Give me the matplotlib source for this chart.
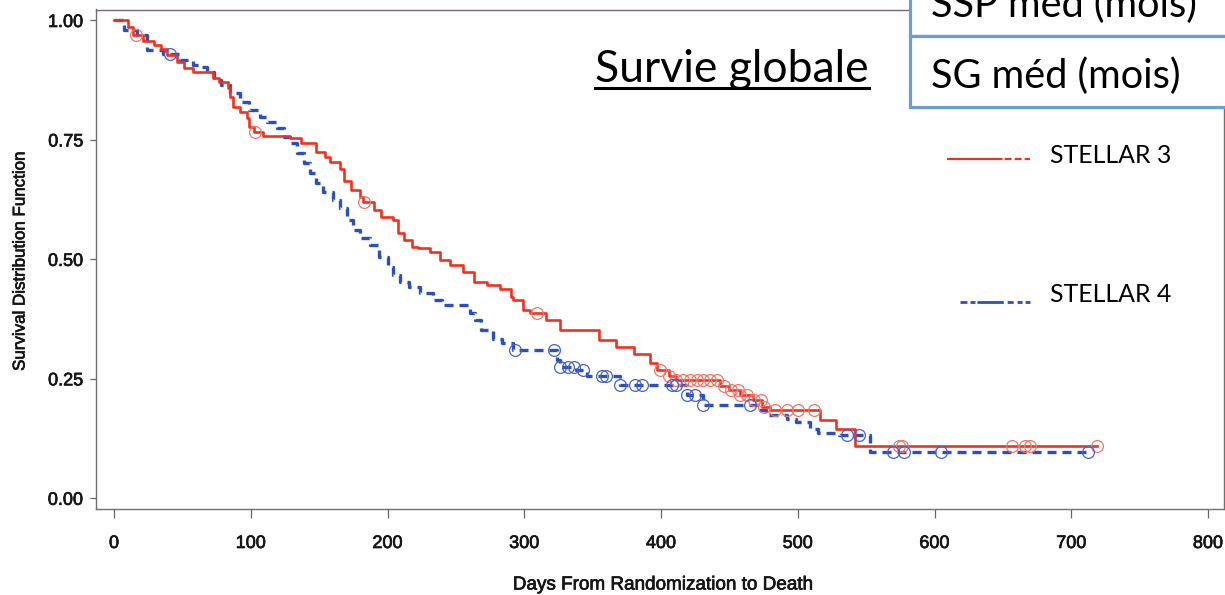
import numpy as np
import matplotlib
matplotlib.use("Agg")
import matplotlib.pyplot as plt
import matplotlib.patheffects as pe
from matplotlib.lines import Line2D
from matplotlib.patches import Rectangle

plt.rcParams['lines.scale_dashes'] = False

# Kaplan-Meier steps: day of each drop and survival after it
s3_days = [0, 10, 14, 21, 29, 34, 39, 46, 51, 58,
           72, 77, 83, 85, 87, 92, 97, 99, 102, 109,
           129, 137, 148, 154, 158, 165, 168, 173, 180, 182,
           190, 195, 204, 208, 212, 218, 222, 231, 238, 246,
           255, 263, 273, 282, 290, 292, 299, 304, 316, 326,
           355, 367, 380, 392, 397, 406, 411, 443, 450, 458,
           467, 474, 480, 516, 528, 542]
s3_surv = [1.000, 0.987, 0.969, 0.958, 0.948, 0.941, 0.927, 0.913, 0.900, 0.892,
           0.880, 0.871, 0.858, 0.840, 0.819, 0.808, 0.795, 0.777, 0.766, 0.759,
           0.754, 0.743, 0.725, 0.714, 0.704, 0.690, 0.665, 0.645, 0.630, 0.620,
           0.603, 0.589, 0.582, 0.555, 0.540, 0.526, 0.523, 0.515, 0.498, 0.488,
           0.473, 0.452, 0.446, 0.439, 0.421, 0.414, 0.394, 0.387, 0.373, 0.352,
           0.331, 0.316, 0.303, 0.283, 0.268, 0.257, 0.247, 0.236, 0.226, 0.216,
           0.205, 0.191, 0.184, 0.163, 0.146, 0.109]
s3_censored = [16, 103, 183, 309, 399, 406, 411, 416, 421, 426, 431, 436, 441,
               446, 451, 456, 458, 463, 468, 473, 475, 483, 492, 500, 512,
               574, 576, 657, 666, 670, 719]

s4_days = [0, 7, 17, 24, 36, 48, 58, 63, 68, 73,
           78, 85, 92, 99, 107, 112, 119, 124, 129, 134,
           139, 143, 148, 153, 160, 165, 170, 175, 180, 187,
           194, 200, 204, 209, 216, 224, 233, 240, 260, 264,
           268, 277, 284, 292, 324, 326, 338, 346, 370, 419,
           431, 471, 477, 492, 499, 509, 515, 530, 553]
s4_surv = [1.000, 0.980, 0.969, 0.938, 0.930, 0.917, 0.906, 0.902, 0.892, 0.875,
           0.865, 0.848, 0.829, 0.812, 0.798, 0.787, 0.775, 0.756, 0.743, 0.722,
           0.701, 0.680, 0.659, 0.641, 0.624, 0.607, 0.582, 0.561, 0.544, 0.530,
           0.505, 0.484, 0.467, 0.452, 0.442, 0.429, 0.414, 0.404, 0.387, 0.373,
           0.352, 0.334, 0.324, 0.310, 0.289, 0.275, 0.268, 0.257, 0.237, 0.216,
           0.195, 0.184, 0.174, 0.167, 0.159, 0.146, 0.136, 0.132, 0.096]
s4_censored = [41, 293, 322, 326, 332, 336, 343, 357, 360, 370, 381, 386, 408,
               411, 419, 425, 431, 465, 536, 545, 570, 578, 605, 712]

x_ticks = [0, 100, 200, 300, 400, 500, 600, 700, 800]
y_ticks = [0.00, 0.25, 0.50, 0.75, 1.00]
arm_labels = ["STELLAR 3", "STELLAR 4"]
table_rows = ["SSP méd (mois)", "SG méd (mois)"]
title = "Survie globale"

RED = '#f2301f'
RED_C = '#f37565'
BLUE = '#2b4fbe'
BLUE_C = '#4862c6'
TABLE_EDGE = '#6a9fd6'
INK = '#151515'

W, H = 1225, 595

# slightly heavier strokes for the axis text
heavy = [pe.withStroke(linewidth=0.5, foreground=INK)]


def fx(x):
    return x / W


def fy(y):
    return 1 - y / H


def km_curve(ax, days, surv, censored, color, ccolor, **kw):
    days = np.asarray(days, float)
    surv = np.asarray(surv, float)
    end = max(censored)
    ax.step(np.append(days, end), np.append(surv, surv[-1]), where='post',
            color=color, **kw)
    idx = np.searchsorted(days, censored, side='right') - 1
    ax.plot(censored, surv[idx], 'o', ms=8.5, mfc='none', mec=ccolor,
            mew=0.9, zorder=4)


fig = plt.figure(figsize=(W / 100, H / 100), dpi=100)
ax = fig.add_axes([fx(96), fy(509.3), fx(1224) - fx(96), fy(9.5) - fy(509.3)])

km_curve(ax, s3_days, s3_surv, s3_censored, RED, RED_C, lw=1.9, zorder=3)
km_curve(ax, s4_days, s4_surv, s4_censored, BLUE, BLUE_C, lw=2.4,
         linestyle=(0, (6.5, 4.3)), zorder=2)

ax.set_xlim(-13.2, 811.7)
ax.set_ylim(-0.023, 1.023)
ax.set_xticks(x_ticks)
ax.set_yticks(y_ticks)
ax.set_yticklabels([f"{v:.2f}" for v in y_ticks])

for lab in ax.get_xticklabels() + ax.get_yticklabels():
    lab.set_fontfamily('Liberation Sans')
    lab.set_fontsize(13)
    lab.set_color(INK)
    lab.set_path_effects(heavy)
ax.tick_params(axis='x', direction='out', length=6.5, width=0.9,
               color='#666666', pad=12)
ax.tick_params(axis='y', direction='out', length=4.3, width=0.9,
               color='#666666', pad=5)
for side in ['left', 'bottom', 'right']:
    ax.spines[side].set_color('#707070')
    ax.spines[side].set_linewidth(1.0)
ax.spines['top'].set_color('#7a6666')
ax.spines['top'].set_linewidth(1.0)

fig.text(fx(20), fy(261), "Survival Distribution Function", rotation=90,
         ha='center', va='center', family='Liberation Sans', size=12.2,
         color=INK, path_effects=heavy)
fig.text(fx(662), fy(585), "Days From Randomization to Death",
         ha='center', va='center', family='Liberation Sans', size=13.6,
         color=INK, path_effects=heavy)

# title with underline
t = fig.text(fx(595), fy(82), title, ha='left', va='baseline',
             family='Lato', size=32, color='black')
fig.canvas.draw()
bb = t.get_window_extent(fig.canvas.get_renderer())
fig.add_artist(Line2D([bb.x0 / W, bb.x1 / W], [fy(87.5), fy(87.5)],
                      transform=fig.transFigure, color='black', lw=2.2))

# summary table in the corner
row_edges = [-35, 36, 107]
for i, label in enumerate(table_rows):
    top, bottom = row_edges[i], row_edges[i + 1]
    fig.add_artist(Rectangle((fx(910), fy(bottom)), fx(1260) - fx(910),
                             fy(top) - fy(bottom), transform=fig.transFigure,
                             facecolor='white', edgecolor=TABLE_EDGE,
                             lw=2.3, zorder=5))
    fig.text(fx(931), fy(bottom - 19), label, ha='left', va='baseline',
             family='Lato', size=28.6, color='black', zorder=6)

# legend
leg_rows = [(159, 163, RED, 1.6, (0, (40, 1.5, 5, 2.2, 5, 2.2, 4))),
            (302, 302, BLUE, 2.0, (0, (5, 2.2, 3.6, 1.4, 19, 2.8, 4.3, 2.8, 3.6, 2.2, 3.6)))]
for (ly, ty, col, lw, ls), label in zip(leg_rows, arm_labels):
    x0 = 947 if col == RED else 960
    fig.add_artist(Line2D([fx(x0), fx(1030)], [fy(ly), fy(ly)],
                          transform=fig.transFigure, color=col, lw=lw,
                          linestyle=ls))
    fig.text(fx(1050), fy(ty), label, ha='left', va='baseline',
             family='Lato', size=17.9, color='black')

fig.savefig('out.png', dpi=100)
